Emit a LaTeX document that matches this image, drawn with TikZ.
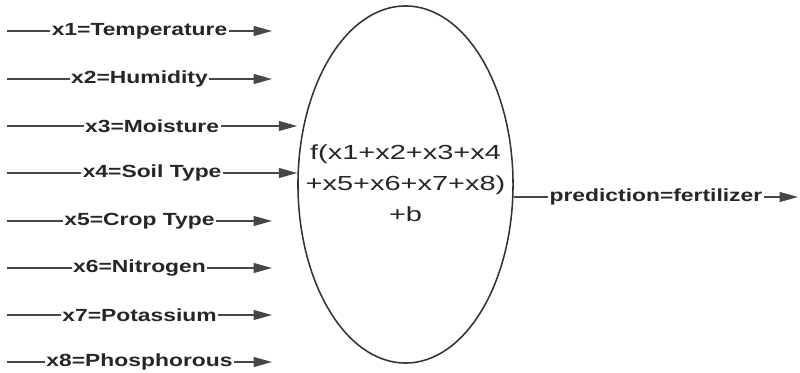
\documentclass[tikz,border=0pt]{standalone}
\usepackage{fontspec}
\setmainfont{Liberation Sans}
\newfontfamily\lblfont{Liberation Sans}[FakeStretch=1.3]
\newfontfamily\fnfont{Liberation Sans}[FakeStretch=1.42]
\usetikzlibrary{
  arrows.meta,
  positioning,
  shapes.geometric
}

\begin{document}
\begin{tikzpicture}[
    x=0.025cm,
    y=-0.025cm,
    >={Triangle[length=13pt,width=7pt]},
    feat/.style={->,draw=black!72,line width=0.9pt},
    lbl/.style={midway,fill=white,inner sep=1pt,text=black!85,
      font=\lblfont\bfseries\fontsize{12.5}{15}\selectfont},
    neuron/.style={ellipse,draw=black!80,line width=1.1pt,
      minimum width=5.375cm,minimum height=8.925cm,inner sep=0pt}
    ]
    
    \useasboundingbox (0,0) rectangle (800,373);
    
    % neuronio
    \node[neuron] (f) at (405.5,184.5) {};
    
    \node[align=center,text=black!85,
      font=\fnfont\fontsize{14.5}{22}\selectfont] (ftext) at (405.5,183)
    {f(x1+x2+x3+x4\\+x5+x6+x7+x8)\\+b};
    
    % entradas
    \coordinate (a1) at (7,31);
    \coordinate (b1) at (272,31);
    \draw[feat] (a1) -- (b1)
    node[lbl]{x1=Temperature};
    
    \coordinate (a2) at (7,79);
    \coordinate (b2) at (272,79);
    \draw[feat] (a2) -- (b2)
    node[lbl]{x2=Humidity};
    
    \coordinate (a3) at (7,126);
    \draw[feat] (a3) -- (a3 -| f.west)
    node[lbl]{x3=Moisture};
    
    \coordinate (a4) at (7,173);
    \draw[feat] (a4) -- (a4 -| f.west)
    node[lbl]{x4=Soil Type};
    
    \coordinate (a5) at (7,221);
    \coordinate (b5) at (272,221);
    \draw[feat] (a5) -- (b5)
    node[lbl]{x5=Crop Type};
    
    \coordinate (a6) at (7,268);
    \coordinate (b6) at (272,268);
    \draw[feat] (a6) -- (b6)
    node[lbl]{x6=Nitrogen};
    
    \coordinate (a7) at (7,315);
    \coordinate (b7) at (272,315);
    \draw[feat] (a7) -- (b7)
    node[lbl]{x7=Potassium};
    
    \coordinate (a8) at (7,362);
    \coordinate (b8) at (272,362);
    \draw[feat] (a8) -- (b8)
    node[lbl]{x8=Phosphorous};
    
    % saida
    \coordinate (out) at (798,197);
    \draw[feat] (f.east |- out) -- (out)
    node[lbl]{prediction=fertilizer};
    
\end{tikzpicture}
\end{document}
